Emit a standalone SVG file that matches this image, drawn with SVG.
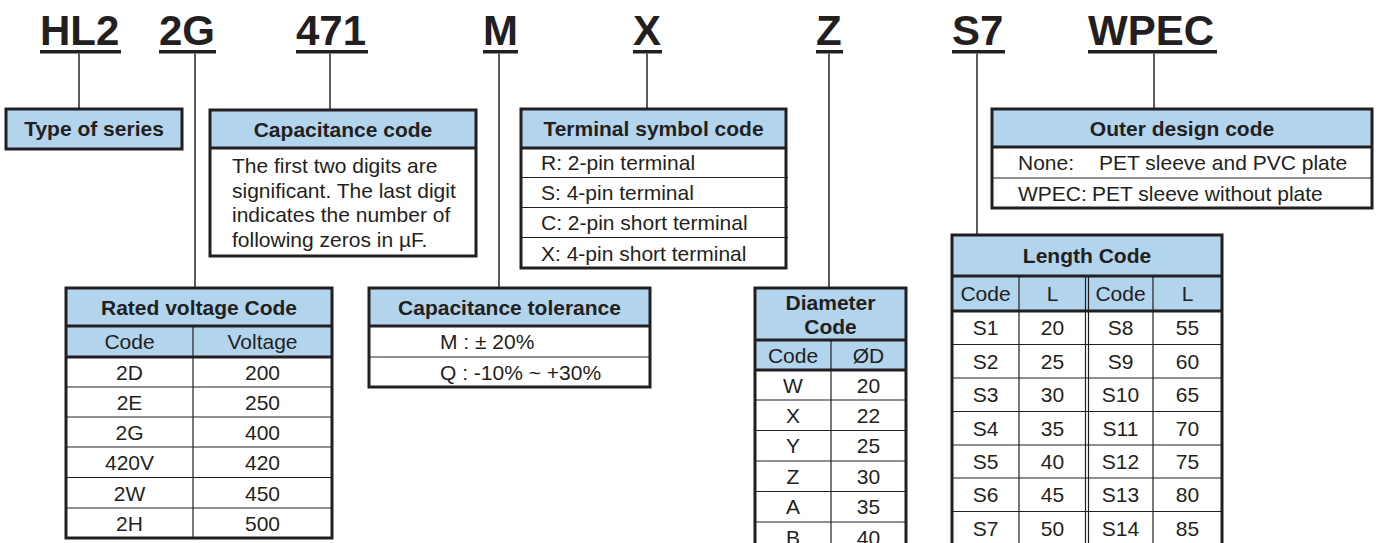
<svg xmlns="http://www.w3.org/2000/svg" width="1379" height="543" viewBox="0 0 1379 543">
<style>
.t{font-family:"Liberation Sans",Arial,Helvetica,sans-serif;fill:#231f20}
.title{font-size:42px;font-weight:bold}
.h{font-size:21px;font-weight:bold;text-anchor:middle}
.b{font-size:21px}
.c{font-size:21px;text-anchor:middle}
.hdr{fill:#b2d4ec}
.wht{fill:#ffffff}
.box{fill:none;stroke:#231f20;stroke-width:3}
.thick{stroke:#231f20;stroke-width:3}
.thin{stroke:#231f20;stroke-width:1.2}
.ul{fill:#231f20}
.conn line{stroke:#333333;stroke-width:1.6}
</style>
<rect width="1379" height="543" fill="#ffffff"/>

<g id="titles">
<text class="t title" x="40" y="45">HL2</text><rect class="ul" x="40" y="50" width="81" height="3.5"/>
<text class="t title" x="159" y="45">2G</text><rect class="ul" x="159" y="50" width="57" height="3.5"/>
<text class="t title" x="296" y="45">471</text><rect class="ul" x="296" y="50" width="72" height="3.5"/>
<text class="t title" x="483" y="45">M</text><rect class="ul" x="483" y="50" width="35" height="3.5"/>
<text class="t title" x="633" y="45">X</text><rect class="ul" x="633" y="50" width="29" height="3.5"/>
<text class="t title" x="816" y="45">Z</text><rect class="ul" x="816" y="50" width="27" height="3.5"/>
<text class="t title" x="952" y="45">S7</text><rect class="ul" x="952" y="50" width="53" height="3.5"/>
<text class="t title" x="1088" y="45">WPEC</text><rect class="ul" x="1088" y="50" width="129" height="3.5"/>
</g>

<g id="connectors" class="conn">
<line x1="79" y1="53.5" x2="79" y2="109"/>
<line x1="195" y1="53.5" x2="195" y2="288"/>
<line x1="330" y1="53.5" x2="330" y2="110"/>
<line x1="499" y1="53.5" x2="499" y2="288"/>
<line x1="647" y1="53.5" x2="647" y2="109"/>
<line x1="829" y1="53.5" x2="829" y2="288"/>
<line x1="977" y1="53.5" x2="977" y2="235"/>
<line x1="1154" y1="53.5" x2="1154" y2="109"/>
</g>

<g id="type-of-series">
<rect class="hdr" x="6" y="109" width="176" height="40"/>
<rect class="box" x="6" y="109" width="176" height="40"/>
<text class="t h" x="94" y="136">Type of series</text>
</g>

<g id="capacitance-code">
<rect class="hdr" x="210" y="110" width="266" height="38"/>
<rect class="wht" x="210" y="148" width="266" height="108"/>
<line class="thick" x1="210" y1="148" x2="476" y2="148"/>
<rect class="box" x="210" y="110" width="266" height="146"/>
<text class="t h" x="343" y="137">Capacitance code</text>
<text class="t b" x="232" y="173">The first two digits are</text>
<text class="t b" x="232" y="197.5">significant. The last digit</text>
<text class="t b" x="232" y="222">indicates the number of</text>
<text class="t b" x="232" y="246.5">following zeros in µF.</text>
</g>

<g id="terminal-symbol-code">
<rect class="hdr" x="521" y="109" width="265" height="39"/>
<rect class="wht" x="521" y="148" width="265" height="120"/>
<line class="thick" x1="521" y1="148" x2="786" y2="148"/>
<line class="thin" x1="521" y1="177.5" x2="788" y2="177.5"/>
<line class="thin" x1="521" y1="207.5" x2="788" y2="207.5"/>
<line class="thin" x1="521" y1="237.5" x2="788" y2="237.5"/>
<rect class="box" x="521" y="109" width="265" height="159"/>
<text class="t h" x="653.5" y="136">Terminal symbol code</text>
<text class="t b" x="541" y="170">R: 2-pin terminal</text>
<text class="t b" x="541" y="200">S: 4-pin terminal</text>
<text class="t b" x="541" y="230">C: 2-pin short terminal</text>
<text class="t b" x="541" y="260.5">X: 4-pin short terminal</text>
</g>

<g id="outer-design-code">
<rect class="hdr" x="992" y="109" width="380" height="38"/>
<rect class="wht" x="992" y="147" width="380" height="61"/>
<line class="thick" x1="992" y1="147" x2="1372" y2="147"/>
<line class="thin" x1="992" y1="178" x2="1372" y2="178"/>
<rect class="box" x="992" y="109" width="380" height="99"/>
<text class="t h" x="1182" y="135.5">Outer design code</text>
<text class="t b" x="1018" y="170">None:</text>
<text class="t b" x="1099" y="170">PET sleeve and PVC plate</text>
<text class="t b" x="1018" y="200.5">WPEC:</text>
<text class="t b" x="1092" y="200.5">PET sleeve without plate</text>
</g>

<g id="rated-voltage-code">
<rect class="hdr" x="66" y="288" width="266" height="69"/>
<rect class="wht" x="66" y="357" width="266" height="181"/>
<line class="thick" x1="66" y1="326" x2="332" y2="326"/>
<line class="thick" x1="66" y1="357" x2="332" y2="357"/>
<line class="thin" x1="66" y1="387" x2="332" y2="387"/>
<line class="thin" x1="66" y1="417" x2="332" y2="417"/>
<line class="thin" x1="66" y1="447" x2="332" y2="447"/>
<line class="thin" x1="66" y1="477.5" x2="332" y2="477.5"/>
<line class="thin" x1="66" y1="508" x2="332" y2="508"/>
<line class="thin" x1="193" y1="326" x2="193" y2="538"/>
<rect class="box" x="66" y="288" width="266" height="250"/>
<text class="t h" x="199" y="314.5">Rated voltage Code</text>
<text class="t c" x="129.5" y="349">Code</text>
<text class="t c" x="262.5" y="349">Voltage</text>
<text class="t c" x="129.5" y="379.5">2D</text><text class="t c" x="262.5" y="379.5">200</text>
<text class="t c" x="129.5" y="409.5">2E</text><text class="t c" x="262.5" y="409.5">250</text>
<text class="t c" x="129.5" y="439.5">2G</text><text class="t c" x="262.5" y="439.5">400</text>
<text class="t c" x="129.5" y="470">420V</text><text class="t c" x="262.5" y="470">420</text>
<text class="t c" x="129.5" y="500.5">2W</text><text class="t c" x="262.5" y="500.5">450</text>
<text class="t c" x="129.5" y="530.5">2H</text><text class="t c" x="262.5" y="530.5">500</text>
</g>

<g id="capacitance-tolerance">
<rect class="hdr" x="369" y="288" width="281" height="38"/>
<rect class="wht" x="369" y="326" width="281" height="61"/>
<line class="thick" x1="369" y1="326" x2="650" y2="326"/>
<line class="thin" x1="369" y1="357" x2="650" y2="357"/>
<rect class="box" x="369" y="288" width="281" height="99"/>
<text class="t h" x="509.5" y="314.5">Capacitance tolerance</text>
<text class="t b" x="440" y="349">M : ± 20%</text>
<text class="t b" x="440" y="379.5">Q : -10% ~ +30%</text>
</g>

<g id="diameter-code">
<rect class="hdr" x="755" y="288" width="151" height="82"/>
<rect class="wht" x="755" y="370" width="151" height="182"/>
<line class="thick" x1="755" y1="340" x2="906" y2="340"/>
<line class="thick" x1="755" y1="370" x2="906" y2="370"/>
<line class="thin" x1="755" y1="400" x2="906" y2="400"/>
<line class="thin" x1="755" y1="430.5" x2="906" y2="430.5"/>
<line class="thin" x1="755" y1="461" x2="906" y2="461"/>
<line class="thin" x1="755" y1="491.5" x2="906" y2="491.5"/>
<line class="thin" x1="755" y1="522" x2="906" y2="522"/>
<line class="thin" x1="831" y1="340" x2="831" y2="552"/>
<rect class="box" x="755" y="288" width="151" height="264"/>
<text class="t h" x="830.5" y="310">Diameter</text>
<text class="t h" x="830.5" y="334">Code</text>
<text class="t c" x="793" y="362.5">Code</text>
<text class="t c" x="868.5" y="362.5">ØD</text>
<text class="t c" x="793" y="392.5">W</text><text class="t c" x="868.5" y="392.5">20</text>
<text class="t c" x="793" y="422.5">X</text><text class="t c" x="868.5" y="422.5">22</text>
<text class="t c" x="793" y="453">Y</text><text class="t c" x="868.5" y="453">25</text>
<text class="t c" x="793" y="483.5">Z</text><text class="t c" x="868.5" y="483.5">30</text>
<text class="t c" x="793" y="514">A</text><text class="t c" x="868.5" y="514">35</text>
<text class="t c" x="793" y="544.5">B</text><text class="t c" x="868.5" y="544.5">40</text>
</g>

<g id="length-code">
<rect class="hdr" x="952" y="235" width="270" height="76"/>
<rect class="wht" x="952" y="311" width="270" height="236"/>
<line class="thick" x1="952" y1="276" x2="1222" y2="276"/>
<line class="thick" x1="952" y1="311" x2="1222" y2="311"/>
<line class="thin" x1="952" y1="344.5" x2="1222" y2="344.5"/>
<line class="thin" x1="952" y1="378" x2="1222" y2="378"/>
<line class="thin" x1="952" y1="411.5" x2="1222" y2="411.5"/>
<line class="thin" x1="952" y1="445" x2="1222" y2="445"/>
<line class="thin" x1="952" y1="478" x2="1222" y2="478"/>
<line class="thin" x1="952" y1="511.5" x2="1222" y2="511.5"/>
<line class="thin" x1="1019" y1="276" x2="1019" y2="547"/>
<line class="thin" x1="1085.5" y1="276" x2="1085.5" y2="547"/>
<line class="thin" x1="1088.5" y1="276" x2="1088.5" y2="547"/>
<line class="thin" x1="1153" y1="276" x2="1153" y2="547"/>
<rect class="box" x="952" y="235" width="270" height="312"/>
<text class="t h" x="1087" y="263">Length Code</text>
<text class="t c" x="985.5" y="301">Code</text><text class="t c" x="1052.5" y="301">L</text>
<text class="t c" x="1120.5" y="301">Code</text><text class="t c" x="1187.5" y="301">L</text>
<text class="t c" x="985.5" y="335">S1</text><text class="t c" x="1052.5" y="335">20</text><text class="t c" x="1120.5" y="335">S8</text><text class="t c" x="1187.5" y="335">55</text>
<text class="t c" x="985.5" y="368.5">S2</text><text class="t c" x="1052.5" y="368.5">25</text><text class="t c" x="1120.5" y="368.5">S9</text><text class="t c" x="1187.5" y="368.5">60</text>
<text class="t c" x="985.5" y="402">S3</text><text class="t c" x="1052.5" y="402">30</text><text class="t c" x="1120.5" y="402">S10</text><text class="t c" x="1187.5" y="402">65</text>
<text class="t c" x="985.5" y="435.5">S4</text><text class="t c" x="1052.5" y="435.5">35</text><text class="t c" x="1120.5" y="435.5">S11</text><text class="t c" x="1187.5" y="435.5">70</text>
<text class="t c" x="985.5" y="469">S5</text><text class="t c" x="1052.5" y="469">40</text><text class="t c" x="1120.5" y="469">S12</text><text class="t c" x="1187.5" y="469">75</text>
<text class="t c" x="985.5" y="502">S6</text><text class="t c" x="1052.5" y="502">45</text><text class="t c" x="1120.5" y="502">S13</text><text class="t c" x="1187.5" y="502">80</text>
<text class="t c" x="985.5" y="535.5">S7</text><text class="t c" x="1052.5" y="535.5">50</text><text class="t c" x="1120.5" y="535.5">S14</text><text class="t c" x="1187.5" y="535.5">85</text>
</g>
</svg>
